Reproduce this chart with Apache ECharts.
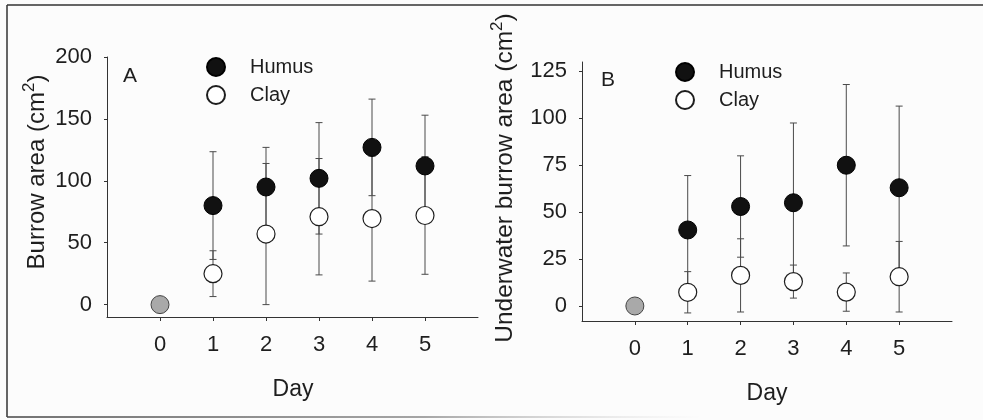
<!DOCTYPE html>
<html>
<head>
<meta charset="utf-8">
<script src="https://cdn.jsdelivr.net/npm/echarts@6/dist/echarts.min.js"></script>
<style>
  html, body { margin: 0; padding: 0; background: #fcfcfc; }
  #chart { width: 983px; height: 420px; }
</style>
</head>
<body>
<div id="chart"></div>
<script>
// Burrow area per day, mean and error (cm2)
const days = [1, 2, 3, 4, 5];
const dayTicks = [0, 1, 2, 3, 4, 5];
const controlDay = [0];
const controlValue = [0];

// Panel A: total burrow area
const humusA = [80, 95, 102, 127, 112];
const humusErrA = [43.5, 32, 45, 39, 41];
const clayA = [25, 57, 71, 69.5, 72];
const clayErrA = [18.5, 57, 47, 50.5, 47.5];
const ticksA = [0, 50, 100, 150, 200];

// Panel B: underwater burrow area
const humusB = [40.5, 53, 55, 75, 63];
const humusErrB = [29, 27, 42.5, 43, 43.5];
const clayB = [7.3, 16.3, 13, 7.4, 15.6];
const clayErrB = [11, 19.5, 8.8, 10.2, 18.8];
const ticksB = [0, 25, 50, 75, 100, 125];

const FONT = '"Liberation Sans", Arial, sans-serif';
const INK = '#1e1e1e';

const chart = echarts.init(document.getElementById('chart'), null, { renderer: 'canvas' });

function pts(xs, ys) { return xs.map((x, i) => [x, ys[i]]); }
function errPts(xs, ys, es) { return xs.map((x, i) => [x, ys[i], es[i]]); }

function errorBars(idx, data) {
  return {
    type: 'custom',
    xAxisIndex: idx, yAxisIndex: idx,
    data: data,
    encode: { x: 0, y: 1 },
    z: 1,
    silent: true,
    renderItem: function (params, api) {
      const x = api.value(0), y = api.value(1), e = api.value(2);
      const hi = api.coord([x, y + e]);
      const lo = api.coord([x, y - e]);
      const hw = 3.5;
      const st = { stroke: '#4a4a4a', lineWidth: 1 };
      return {
        type: 'group',
        children: [
          { type: 'line', shape: { x1: hi[0], y1: hi[1], x2: lo[0], y2: lo[1] }, style: st },
          { type: 'line', shape: { x1: hi[0] - hw, y1: hi[1], x2: hi[0] + hw, y2: hi[1] }, style: st },
          { type: 'line', shape: { x1: lo[0] - hw, y1: lo[1], x2: lo[0] + hw, y2: lo[1] }, style: st }
        ]
      };
    }
  };
}

function xAxisFor(idx) {
  return {
    type: 'value', gridIndex: idx, min: -1, max: 6, interval: 1,
    axisLine: { show: true, onZero: false, lineStyle: { color: '#333', width: 1 } },
    axisTick: { show: true, customValues: dayTicks, length: 4, inside: false, lineStyle: { color: '#333' } },
    axisLabel: { customValues: dayTicks, margin: 17, color: INK, fontSize: 22, fontFamily: FONT },
    splitLine: { show: false }
  };
}

function yAxisFor(idx, min, max, ticks) {
  return {
    type: 'value', gridIndex: idx, min: min, max: max,
    axisLine: { show: true, onZero: false, lineStyle: { color: '#333', width: 1 } },
    axisTick: { show: true, customValues: ticks, length: 3, lineStyle: { color: '#333' } },
    axisLabel: { customValues: ticks, margin: 15, color: INK, fontSize: 22, fontFamily: FONT },
    splitLine: { show: false }
  };
}

const humusStyle = { color: '#111111', borderColor: '#000', borderWidth: 1, opacity: 1 };
const clayStyle = { color: '#ffffff', borderColor: '#1e1e1e', borderWidth: 1.2, opacity: 1 };
const controlStyle = { color: '#a9a9a9', borderColor: '#444', borderWidth: 1, opacity: 1 };

function scatter(idx, name, data, style, z) {
  return {
    type: 'scatter', name: name, xAxisIndex: idx, yAxisIndex: idx,
    data: data, symbol: 'circle', symbolSize: 18, itemStyle: style, z: z, silent: true
  };
}

function legendFor(left, top) {
  return {
    data: ['Humus', 'Clay'], orient: 'vertical', left: left, top: top, padding: 0,
    itemWidth: 18, itemHeight: 18, itemGap: 8, selectedMode: false,
    icon: 'circle',
    textStyle: { fontSize: 20, fontFamily: FONT, color: INK, padding: [0, 0, 0, 20] }
  };
}

function axisName(text, x, y, rotate, size) {
  return {
    type: 'text', x: x, y: y, rotation: rotate ? Math.PI / 2 : 0, silent: true,
    style: {
      text: text, align: 'center', verticalAlign: 'middle', fill: INK,
      rich: {
        t: { fontSize: size, fontFamily: FONT, fill: INK, lineHeight: size + 4, verticalAlign: 'bottom' },
        s: { fontSize: Math.round(size * 0.7), fontFamily: FONT, fill: INK, lineHeight: Math.round(size * 0.7), verticalAlign: 'top' }
      }
    }
  };
}

chart.setOption({
  animation: false,
  backgroundColor: '#fcfcfc',
  grid: [
    { left: 107, top: 57, width: 371, height: 260 },
    { left: 582, top: 62, width: 370, height: 259 }
  ],
  xAxis: [xAxisFor(0), xAxisFor(1)],
  yAxis: [yAxisFor(0, -10, 200, ticksA), yAxisFor(1, -8, 130, ticksB)],
  legend: [legendFor(206, 57), legendFor(675, 62)],
  series: [
    errorBars(0, errPts(days, clayA, clayErrA)),
    errorBars(0, errPts(days, humusA, humusErrA)),
    scatter(0, 'Control', pts(controlDay, controlValue), controlStyle, 3),
    scatter(0, 'Clay', pts(days, clayA), clayStyle, 3),
    scatter(0, 'Humus', pts(days, humusA), humusStyle, 4),
    errorBars(1, errPts(days, clayB, clayErrB)),
    errorBars(1, errPts(days, humusB, humusErrB)),
    scatter(1, 'Control', pts(controlDay, controlValue), controlStyle, 3),
    scatter(1, 'Clay', pts(days, clayB), clayStyle, 3),
    scatter(1, 'Humus', pts(days, humusB), humusStyle, 4)
  ],
  graphic: [
    // frame around the figure
    { type: 'line', silent: true, shape: { x1: 7, y1: 5, x2: 983, y2: 5 }, style: { stroke: '#333', lineWidth: 1.5 } },
    { type: 'line', silent: true, shape: { x1: 7, y1: 5, x2: 7, y2: 417 }, style: { stroke: '#333', lineWidth: 1.5 } },
    { type: 'line', silent: true, shape: { x1: 7, y1: 417, x2: 700, y2: 417 },
      style: { lineWidth: 1.5, stroke: { type: 'linear', x: 0, y: 0, x2: 1, y2: 0, colorStops: [
        { offset: 0, color: '#444' }, { offset: 0.6, color: '#888' }, { offset: 1, color: 'rgba(200,200,200,0)' }] } } },
    // panel letters
    { type: 'text', x: 130, y: 76, silent: true, style: { text: 'A', align: 'center', verticalAlign: 'middle', fontSize: 21, fontFamily: FONT, fill: INK } },
    { type: 'text', x: 608, y: 80, silent: true, style: { text: 'B', align: 'center', verticalAlign: 'middle', fontSize: 21, fontFamily: FONT, fill: INK } },
    // axis titles
    axisName('{t|Burrow area (cm}{s|2}{t|)}', 35, 172, true, 24),
    axisName('{t|Underwater burrow area (cm}{s|2}{t|)}', 503, 178, true, 24.5),
    axisName('{t|Day}', 293, 388, false, 23),
    axisName('{t|Day}', 767, 392, false, 23)
  ]
});
</script>
</body>
</html>
